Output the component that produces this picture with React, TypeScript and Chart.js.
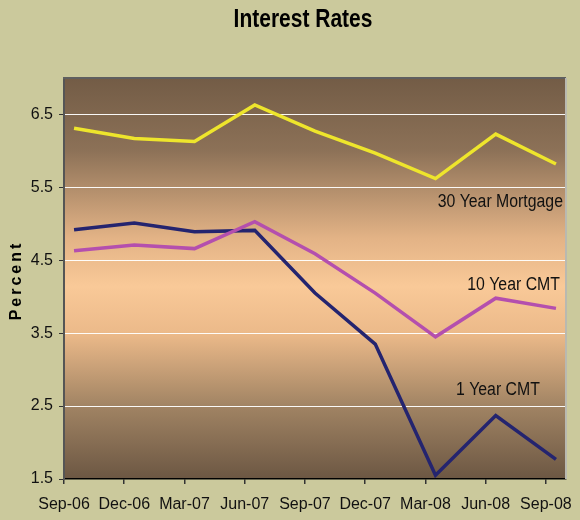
import React, { useEffect, useRef } from 'react';
import { Chart, registerables } from 'chart.js';

Chart.register(...registerables);

// ---- data ----
const tickLabels = ['Sep-06', 'Dec-06', 'Mar-07', 'Jun-07', 'Sep-07', 'Dec-07', 'Mar-08', 'Jun-08', 'Sep-08'];
const tickMonths = [0, 3, 6, 9, 12, 15, 18, 21, 24];
const pointMonths = [0.5, 3.5, 6.5, 9.5, 12.5, 15.5, 18.5, 21.5, 24.5];
const mortgage30 = [6.31, 6.17, 6.13, 6.63, 6.27, 5.97, 5.62, 6.23, 5.82];
const cmt10 = [4.63, 4.71, 4.66, 5.03, 4.59, 4.05, 3.45, 3.98, 3.84];
const cmt1 = [4.92, 5.01, 4.89, 4.91, 4.05, 3.35, 1.55, 2.37, 1.77];
const yTicks = [1.5, 2.5, 3.5, 4.5, 5.5, 6.5];
const seriesNames = ['30 Year Mortgage', '10 Year CMT', '1 Year CMT'];
const titleText = 'Interest Rates';
const yTitle = 'Percent';

const FONT = '"Liberation Sans", Arial, sans-serif';

const toPoints = (vals: number[]) => vals.map((v, i) => ({ x: pointMonths[i], y: v }));

const decorPlugin = {
  id: 'decor',
  beforeDraw(chart: any) {
    const { ctx, chartArea: a, width, height } = chart;
    ctx.save();
    ctx.fillStyle = '#cbc99c';
    ctx.fillRect(0, 0, width, height);
    const g = ctx.createLinearGradient(0, a.top, 0, a.bottom);
    g.addColorStop(0, '#735c46');
    g.addColorStop(0.18, '#8c7157');
    g.addColorStop(0.4, '#e3b386');
    g.addColorStop(0.52, '#f9c998');
    g.addColorStop(0.64, '#ebb989');
    g.addColorStop(0.82, '#a08363');
    g.addColorStop(1, '#6c5743');
    ctx.fillStyle = g;
    ctx.fillRect(a.left, a.top, a.right - a.left, a.bottom - a.top);
    ctx.restore();
  },
  afterDraw(chart: any) {
    const { ctx, chartArea: a, scales } = chart;
    ctx.save();
    // frame: top and right
    ctx.strokeStyle = '#5f5f5f';
    ctx.lineWidth = 2;
    ctx.beginPath();
    ctx.moveTo(a.left - 1, a.top);
    ctx.lineTo(a.right, a.top);
    ctx.stroke();
    ctx.strokeStyle = '#b9b9b0';
    ctx.beginPath();
    ctx.moveTo(a.right, a.top);
    ctx.lineTo(a.right, a.bottom);
    ctx.stroke();

    // title (condensed look)
    ctx.fillStyle = '#000';
    ctx.textAlign = 'center';
    ctx.textBaseline = 'middle';
    ctx.save();
    ctx.translate(303, 20);
    ctx.scale(0.84, 1);
    ctx.font = 'bold 25px ' + FONT;
    ctx.fillText(titleText, 0, 0);
    ctx.restore();

    // y title
    ctx.save();
    ctx.translate(17, (a.top + a.bottom) / 2 + 2);
    ctx.rotate(-Math.PI / 2);
    ctx.font = 'bold 16px ' + FONT;
    (ctx as any).letterSpacing = '3px';
    ctx.fillText(yTitle, 0, 0);
    ctx.restore();

    // series labels
    const x = scales.x, y = scales.y;
    const spots = [
      { name: seriesNames[0], mx: 24.85, v: 5.3 },
      { name: seriesNames[1], mx: 24.7, v: 4.16 },
      { name: seriesNames[2], mx: 23.7, v: 2.72 },
    ];
    ctx.textAlign = 'right';
    ctx.textBaseline = 'middle';
    ctx.fillStyle = '#111';
    spots.forEach((s) => {
      ctx.save();
      ctx.translate(x.getPixelForValue(s.mx), y.getPixelForValue(s.v));
      ctx.scale(0.88, 1);
      ctx.font = '18px ' + FONT;
      ctx.fillText(s.name, 0, 0);
      ctx.restore();
    });
    ctx.restore();
  },
};

export default function App() {
  const ref = useRef<HTMLCanvasElement | null>(null);
  useEffect(() => {
    if (!ref.current) return;
    const chart = new Chart(ref.current, {
      type: 'line',
      data: {
        datasets: [
          { label: seriesNames[0], data: toPoints(mortgage30), borderColor: '#eee52c', borderWidth: 3.5 },
          { label: seriesNames[1], data: toPoints(cmt10), borderColor: '#b44fae', borderWidth: 3.5 },
          { label: seriesNames[2], data: toPoints(cmt1), borderColor: '#24246f', borderWidth: 3.5 },
        ],
      },
      options: {
        responsive: false,
        animation: false,
        events: [],
        layout: { padding: { top: 78, right: 14, left: 0, bottom: 0 } },
        elements: { point: { radius: 0 }, line: { tension: 0 } },
        plugins: { legend: { display: false }, tooltip: { enabled: false }, title: { display: false } },
        scales: {
          x: {
            type: 'linear',
            min: 0,
            max: 25,
            afterBuildTicks: (s: any) => {
              s.ticks = tickMonths.map((v) => ({ value: v }));
            },
            afterFit: (s: any) => {
              s.height = 41;
              s.paddingLeft = 0;
              s.paddingRight = 0;
            },
            ticks: {
              autoSkip: false,
              maxRotation: 0,
              padding: 11,
              color: '#111',
              font: { family: FONT, size: 16 },
              callback: (v: any) => {
                const i = tickMonths.indexOf(Number(v));
                return i >= 0 ? tickLabels[i] : '';
              },
            },
            grid: { drawOnChartArea: false, tickLength: 5, color: '#333', tickColor: '#333', lineWidth: 1.5 },
            border: { color: '#000', width: 1.5 },
          },
          y: {
            min: 1.5,
            max: 7,
            afterBuildTicks: (s: any) => {
              s.ticks = yTicks.map((v) => ({ value: v }));
            },
            afterFit: (s: any) => {
              s.width = 64;
              s.paddingTop = 0;
              s.paddingBottom = 0;
            },
            ticks: {
              padding: 6,
              color: '#111',
              font: { family: FONT, size: 16 },
              callback: (v: any) => Number(v).toFixed(1),
            },
            grid: {
              tickLength: 5,
              lineWidth: 1,
              color: (c: any) => (c.tick && c.tick.value === 1.5 ? 'rgba(0,0,0,0)' : 'rgba(255,255,255,0.95)'),
              tickColor: '#333',
            },
            border: { color: '#555', width: 2 },
          },
        },
      },
      plugins: [decorPlugin],
    } as any);
    return () => chart.destroy();
  }, []);
  return (
    <div style={{ position: 'absolute', left: 0, top: 0, width: 580, height: 520 }}>
      <canvas ref={ref} width={580} height={520} style={{ display: 'block' }} />
    </div>
  );
}
